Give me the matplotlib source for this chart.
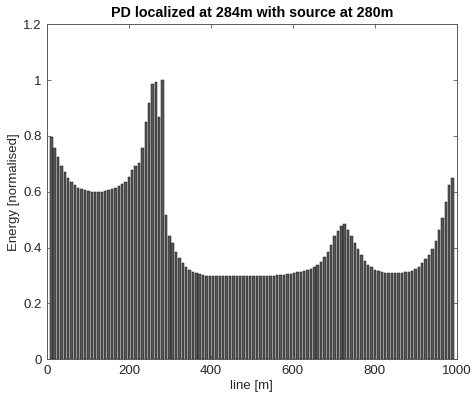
import numpy as np
import matplotlib
matplotlib.use("Agg")
import matplotlib.pyplot as plt

plt.rcParams['font.family'] = ['Liberation Sans', 'DejaVu Sans']

# Data
x_start, x_end = 10.5, 990.0
energy = [
    0.796, 0.757, 0.723, 0.691, 0.670, 0.650, 0.635, 0.625, 0.615, 0.610,
    0.606, 0.604, 0.601, 0.600, 0.600, 0.601, 0.603, 0.606, 0.610, 0.615,
    0.620, 0.627, 0.635, 0.653, 0.678, 0.693, 0.704, 0.757, 0.849, 0.919,
    0.985, 0.993, 0.868, 1.000,
    0.517, 0.441, 0.415, 0.383, 0.362, 0.344, 0.329, 0.319, 0.313, 0.308,
    0.304, 0.302, 0.300, 0.299,
    0.299, 0.298, 0.298, 0.298, 0.298, 0.298, 0.298, 0.298, 0.299, 0.299,
    0.299, 0.299, 0.299, 0.299, 0.299, 0.299,
    0.299, 0.299, 0.300, 0.301, 0.302, 0.303, 0.305, 0.307, 0.309, 0.311,
    0.313, 0.316, 0.320, 0.325, 0.332, 0.338, 0.350, 0.366, 0.385, 0.410,
    0.440, 0.460, 0.476, 0.486, 0.462, 0.442, 0.418, 0.395, 0.372, 0.352,
    0.339, 0.329, 0.321, 0.315, 0.311, 0.309, 0.308, 0.308, 0.308, 0.308,
    0.309, 0.311, 0.314, 0.318, 0.323, 0.332, 0.344, 0.358, 0.375, 0.395,
    0.425, 0.462, 0.505, 0.565, 0.625, 0.648,
]
positions = np.linspace(x_start, x_end, len(energy))
xticks = [0, 200, 400, 600, 800, 1000]
yticks = [0, 0.2, 0.4, 0.6, 0.8, 1.0, 1.2]
yticklabels = ['0', '0.2', '0.4', '0.6', '0.8', '1', '1.2']

fig = plt.figure(figsize=(4.71, 4.0), dpi=100)
ax = fig.add_axes([0.0998, 0.1018, 0.8698, 0.8375])

spacing = positions[1] - positions[0]
ax.bar(positions, energy, width=0.72 * spacing, color='#585858',
       edgecolor='#111111', linewidth=0.35)

ax.set_xlim(0, 1000)
ax.set_ylim(0, 1.2)
ax.set_xticks(xticks)
ax.set_yticks(yticks)
ax.set_yticklabels(yticklabels)

axcol = '#262626'
for s in ax.spines.values():
    s.set_color('#5a5a5a')
    s.set_linewidth(0.7)
ax.tick_params(direction='in', length=3, width=0.6, color='#5a5a5a',
               labelcolor=axcol, labelsize=9.5, top=True, right=True,
               pad=4)

ax.set_xlabel('line [m]', fontsize=9.5, color=axcol, labelpad=2)
ax.set_ylabel('Energy [normalised]', fontsize=9.5, color=axcol, labelpad=2)
ax.set_title('PD localized at 284m with source at 280m', fontsize=10.3,
             fontweight='bold', color='black', pad=5)

fig.savefig('out.png', dpi=100)
